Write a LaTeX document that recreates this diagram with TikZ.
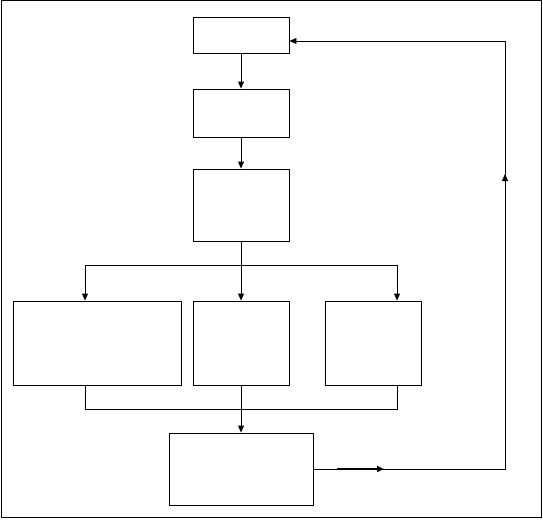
\documentclass[tikz,border=0pt]{standalone}
\usetikzlibrary{arrows.meta}
\begin{document}
\begin{tikzpicture}[x=1pt,y=-1pt,
  line width=0.9pt,
  boxnode/.style={draw,rectangle,inner sep=0pt,line width=0.9pt},
  arr/.style={-{Triangle[length=7pt,width=6pt]}},
  link/.style={line width=0.9pt}]
\useasboundingbox (0,0) rectangle (543,519);
\draw[line width=1pt] (1,1) rectangle (541,517);
\node[boxnode,minimum width=96pt,minimum height=36pt] (b1) at (241,35) {};
\node[boxnode,minimum width=96pt,minimum height=48pt] (b2) at (241,113) {};
\node[boxnode,minimum width=96pt,minimum height=72pt] (b3) at (241,205) {};
\node[boxnode,minimum width=168pt,minimum height=84pt] (b4) at (97,343) {};
\node[boxnode,minimum width=96pt,minimum height=84pt] (b5) at (241,343) {};
\node[boxnode,minimum width=96pt,minimum height=84pt] (b6) at (373,343) {};
\node[boxnode,minimum width=144pt,minimum height=72pt] (b7) at (241,469) {};
\coordinate (j1) at (241,265);
\coordinate (jl) at (85,265);
\coordinate (jr) at (397,265);
\coordinate (kl) at (85,409);
\coordinate (kr) at (397,409);
\coordinate (fr) at (505,469);
\coordinate (ft) at (505,41);
\coordinate (ms) at (337,469);
\coordinate (me) at (384,469);
\coordinate (us) at (505,186);
\coordinate (ue) at (505,174);
\draw[arr] (b1) -- (b2);
\draw[arr] (b2) -- (b3);
\draw[link] (b3.south) -- (j1);
\draw[link] (jl) -- (jr);
\draw[arr] (jl) -- (jl |- b4.north);
\draw[arr] (j1) -- (b5.north);
\draw[arr] (jr) -- (jr |- b6.north);
\draw[link] (kl |- b4.south) -- (kl) -- (kr) -- (kr |- b6.south);
\draw[arr] (b5.south) -- (b7.north);
\draw[link] (b7.east) -- (fr) -- (ft);
\draw[arr] (ft) -- (b1.east |- ft);
\draw[arr,line width=1.6pt] (ms) -- (me);
\draw[arr] (us) -- (ue);
\end{tikzpicture}
\end{document}
